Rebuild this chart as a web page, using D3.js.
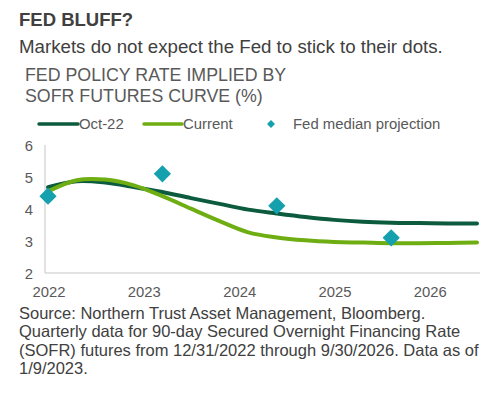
<!DOCTYPE html>
<html><head><meta charset="utf-8">
<script src="https://cdn.jsdelivr.net/npm/d3@7"></script>
<style>
body{margin:0;background:#fff;}
svg{display:block;font-family:"Liberation Sans",Arial,sans-serif;}
</style></head>
<body><svg id="c" width="500" height="394"></svg>
<script>
// Quarterly points (index 0..15)
const oct22 = [4.68, 4.87, 4.83, 4.69, 4.53, 4.34, 4.16, 3.98, 3.86, 3.75, 3.66, 3.60, 3.57, 3.56, 3.55, 3.55];
const current = [4.55, 4.90, 4.92, 4.74, 4.40, 4.01, 3.62, 3.27, 3.11, 3.02, 2.97, 2.95, 2.93, 2.93, 2.94, 2.95];
const fedIdx = [0, 4, 8, 12];
const fedVals = [4.4, 5.1, 4.1, 3.1];
const yTicks = [2, 3, 4, 5, 6];
const xTickLabels = ["2022", "2023", "2024", "2025", "2026"];
const xTickPos = [0, 3.33, 6.67, 10, 13.33];
const legendLabels = ["Oct-22", "Current", "Fed median projection"];

const svg = d3.select("#c");
const darkC = "#0d5b3e", lightC = "#6fae12", teal = "#14a0ad";

const x = d3.scaleLinear().domain([0, 15]).range([48, 477]);
const y = d3.scaleLinear().domain([2, 6]).range([273, 145]);

// titles
svg.append("text").attr("x", 19).attr("y", 26).attr("font-size", 18.5).attr("font-weight", "bold").attr("fill", "#404040").text("FED BLUFF?");
svg.append("text").attr("x", 19).attr("y", 52.5).attr("font-size", 18.7).attr("fill", "#404040").text("Markets do not expect the Fed to stick to their dots.");
svg.append("text").attr("x", 25).attr("y", 81).attr("font-size", 17.8).attr("fill", "#595959").text("FED POLICY RATE IMPLIED BY");
svg.append("text").attr("x", 25).attr("y", 102).attr("font-size", 17.8).attr("fill", "#595959").text("SOFR FUTURES CURVE (%)");

// legend
const lg = svg.append("g").attr("font-size", 14.9).attr("fill", "#595959");
lg.append("line").attr("x1", 39).attr("x2", 78).attr("y1", 124).attr("y2", 124).attr("stroke", darkC).attr("stroke-width", 3.5).attr("stroke-linecap", "round");
lg.append("text").attr("x", 79).attr("y", 129).text(legendLabels[0]);
lg.append("line").attr("x1", 144).attr("x2", 182).attr("y1", 124).attr("y2", 124).attr("stroke", lightC).attr("stroke-width", 3.5).attr("stroke-linecap", "round");
lg.append("text").attr("x", 183).attr("y", 129).text(legendLabels[1]);
lg.append("path").attr("d", d3.symbol(d3.symbolDiamond2, 40)()).attr("transform", "translate(271,124)").attr("fill", teal);
lg.append("text").attr("x", 293).attr("y", 129).text(legendLabels[2]);

// axes lines
svg.append("line").attr("x1", 45).attr("x2", 45).attr("y1", 145).attr("y2", 273).attr("stroke", "#d9d9d9").attr("stroke-width", 1.5);
svg.append("line").attr("x1", 45).attr("x2", 480).attr("y1", 273).attr("y2", 273).attr("stroke", "#d9d9d9").attr("stroke-width", 1.5);

// y ticks
svg.append("g").selectAll("text").data(yTicks).join("text")
  .attr("x", 33).attr("y", d => y(d) + 5.5).attr("text-anchor", "end")
  .attr("font-size", 14.8).attr("fill", "#595959").text(d => d);

// x ticks
svg.append("g").selectAll("text").data(xTickLabels).join("text")
  .attr("x", (d, i) => x(xTickPos[i]) + 1).attr("y", 297).attr("text-anchor", "middle")
  .attr("font-size", 14.8).attr("fill", "#595959").text(d => d);

// lines
const line = d3.line().x((d, i) => x(i)).y(d => y(d)).curve(d3.curveCatmullRom.alpha(0.5));
svg.append("path").datum(oct22).attr("d", line).attr("fill", "none").attr("stroke", darkC).attr("stroke-width", 4).attr("stroke-linecap", "round");
svg.append("path").datum(current).attr("d", line).attr("fill", "none").attr("stroke", lightC).attr("stroke-width", 4).attr("stroke-linecap", "round");

// fed dots
svg.append("g").selectAll("path").data(fedVals).join("path")
  .attr("d", d3.symbol(d3.symbolDiamond2, 190)())
  .attr("transform", (d, i) => `translate(${x(fedIdx[i])},${y(d)})`)
  .attr("fill", teal);

// source
const src = ["Source: Northern Trust Asset Management, Bloomberg.",
  "Quarterly data for 90-day Secured Overnight Financing Rate",
  "(SOFR) futures from 12/31/2022 through 9/30/2026. Data as of",
  "1/9/2023."];
svg.append("g").selectAll("text").data(src).join("text")
  .attr("x", 19).attr("y", (d, i) => 319 + i * 18.3)
  .attr("font-size", 16.5).attr("fill", "#404040").text(d => d);
</script></body></html>
